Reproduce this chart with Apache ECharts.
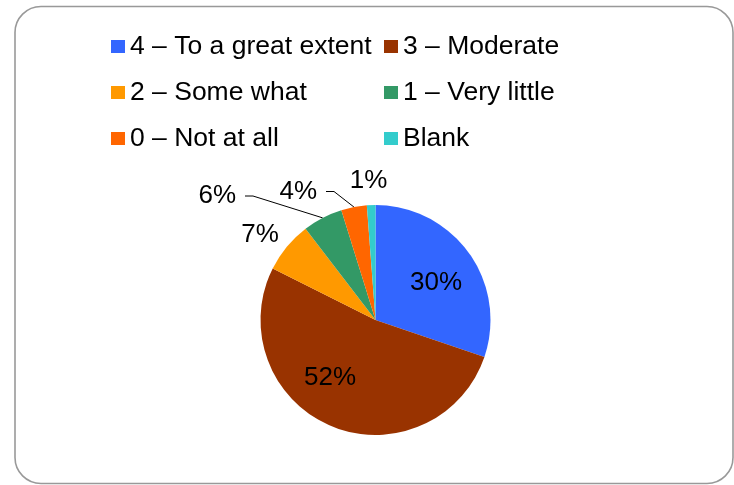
<!DOCTYPE html>
<html>
<head>
<meta charset="utf-8">
<script src="https://cdn.jsdelivr.net/npm/echarts@6/dist/echarts.min.js"></script>
<style>
  html, body { margin: 0; padding: 0; background: #ffffff; }
  #chart { width: 734px; height: 485px; }
</style>
</head>
<body>
<div id="chart"></div>
<script>
// ---- data ----
const categories = ['4 – To a great extent', '3 – Moderate', '2 – Some what', '1 – Very little', '0 – Not at all', 'Blank'];
const shares = [30.2, 52.2, 7.2, 5.6, 3.6, 1.2];
const sliceColors = ['#3366FF', '#993300', '#FF9900', '#339966', '#FF6600', '#33CCCC'];

// ---- layout (not data) ----
const pieCenter = [375.5, 320];
const pieRadius = 115;
const FONT = 'Liberation Sans, Arial, sans-serif';
// label placement relative to pie centre: [dx, dy, align, withLeader]
const labelPlace = [
  [60.5, -37, 'center', false],
  [-45.5, 58, 'center', false],
  [-115.5, -85, 'center', false],
  [-130.5, -124, 'right', true],
  [-49.5, -128.5, 'right', true],
  [-7, -139, 'center', false]
];

const seriesData = categories.map((name, i) => {
  const lead = labelPlace[i][3];
  return {
    name: name,
    value: shares[i],
    itemStyle: { color: sliceColors[i] },
    label: lead ? { padding: [0, 9, 12, 0], backgroundColor: 'rgba(0,0,0,0)' } : {},
    labelLine: { show: lead }
  };
});

const chart = echarts.init(document.getElementById('chart'), null, { renderer: 'canvas' });
const legendCommon = {
  orient: 'vertical',
  padding: 0,
  itemWidth: 14,
  itemHeight: 13,
  itemGap: 19,
  icon: 'rect',
  selectedMode: false,
  textStyle: { fontFamily: FONT, fontSize: 26.5, lineHeight: 26, color: '#000' }
};
chart.setOption({
  animation: false,
  backgroundColor: '#ffffff',
  graphic: [{
    type: 'rect',
    shape: { x: 15, y: 6.5, width: 718, height: 477, r: 26 },
    style: { fill: 'none', stroke: '#999999', lineWidth: 1.6 },
    silent: true
  }],
  legend: [
    Object.assign({ left: 111, top: 33, data: [categories[0], categories[2], categories[4]] }, legendCommon),
    Object.assign({ left: 384, top: 33, data: [categories[1], categories[3], categories[5]] }, legendCommon)
  ],
  series: [{
    type: 'pie',
    center: pieCenter,
    radius: pieRadius,
    startAngle: 90,
    clockwise: true,
    avoidLabelOverlap: false,
    itemStyle: { borderWidth: 0 },
    label: {
      show: true,
      position: 'outside',
      color: '#000',
      fontFamily: FONT,
      fontSize: 26,
      formatter: p => Math.round(p.value) + '%'
    },
    labelLine: {
      show: true,
      length: 10,
      length2: 8,
      lineStyle: { color: '#000', width: 1 }
    },
    labelLayout: function (params) {
      const lp = labelPlace[params.dataIndex];
      return {
        x: pieCenter[0] + lp[0],
        y: pieCenter[1] + lp[1],
        align: lp[2],
        verticalAlign: 'middle'
      };
    },
    emphasis: { disabled: true },
    data: seriesData
  }]
});
</script>
</body>
</html>
